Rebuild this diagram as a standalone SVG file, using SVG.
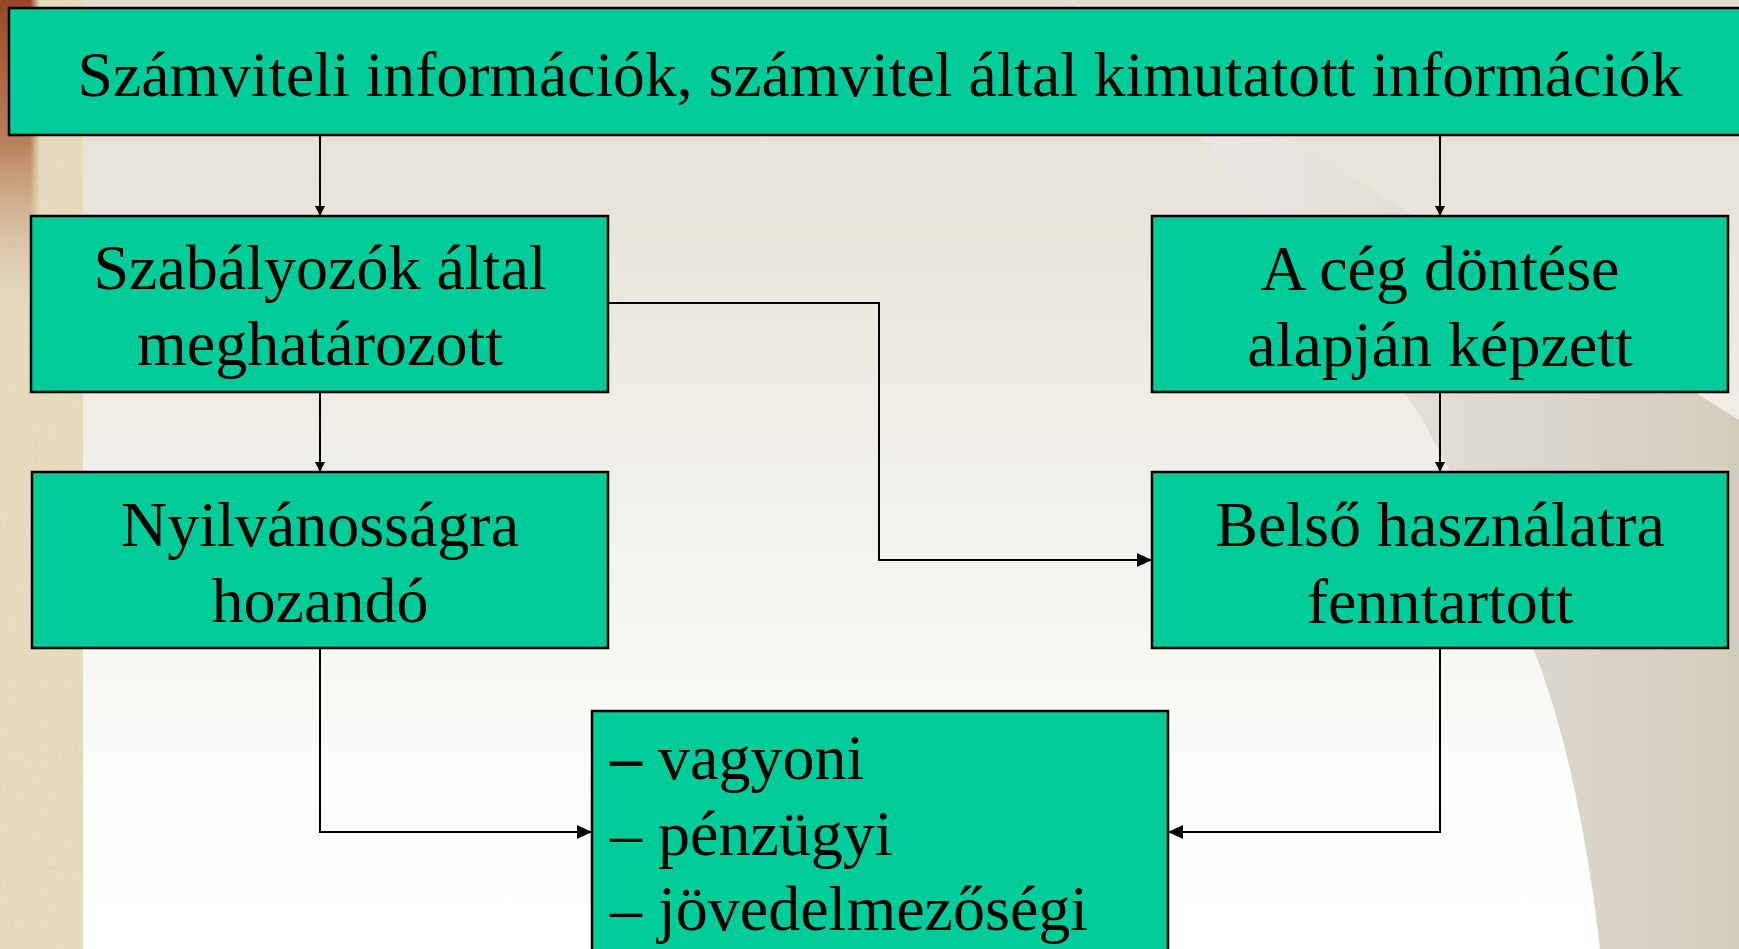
<svg xmlns="http://www.w3.org/2000/svg" width="1739" height="949" viewBox="0 0 1739 949">
  <defs>
    <linearGradient id="bgMain" x1="0" y1="0" x2="0" y2="949" gradientUnits="userSpaceOnUse">
      <stop offset="0" stop-color="#e1ded0"/>
      <stop offset="0.45" stop-color="#efede6"/>
      <stop offset="0.85" stop-color="#fdfdfc"/>
      <stop offset="1" stop-color="#ffffff"/>
    </linearGradient>
    <linearGradient id="swoosh" x1="1150" y1="0" x2="1739" y2="0" gradientUnits="userSpaceOnUse">
      <stop offset="0" stop-color="#ece8e4"/>
      <stop offset="0.45" stop-color="#e2ddd6"/>
      <stop offset="1" stop-color="#d2cdbc"/>
    </linearGradient>
    <linearGradient id="brown" x1="0" y1="0" x2="0" y2="320" gradientUnits="userSpaceOnUse">
      <stop offset="0" stop-color="#9a4526"/>
      <stop offset="0.45" stop-color="#b2704c" stop-opacity="0.85"/>
      <stop offset="1" stop-color="#d9c7a2" stop-opacity="0"/>
    </linearGradient>
    <linearGradient id="brownH" x1="0" y1="0" x2="40" y2="0" gradientUnits="userSpaceOnUse">
      <stop offset="0" stop-color="#ffffff" stop-opacity="1"/>
      <stop offset="0.75" stop-color="#ffffff" stop-opacity="1"/>
      <stop offset="1" stop-color="#ffffff" stop-opacity="0"/>
    </linearGradient>
    <mask id="brownMask">
      <rect x="0" y="0" width="40" height="320" fill="url(#brownH)"/>
    </mask>
    <filter id="paper" x="0" y="0" width="1" height="1">
      <feTurbulence type="fractalNoise" baseFrequency="0.45 0.15" numOctaves="3" seed="4"/>
      <feColorMatrix type="matrix" values="0 0 0 0 0.72  0 0 0 0 0.66  0 0 0 0 0.50  0.7 0 0 0 -0.22"/>
    </filter>
    <marker id="arrS" markerUnits="userSpaceOnUse" markerWidth="10" markerHeight="10" refX="10" refY="5" orient="auto">
      <path d="M0,0 L10,5 L0,10 Z" fill="#000"/>
    </marker>
    <marker id="arrL" markerUnits="userSpaceOnUse" markerWidth="15" markerHeight="14" refX="15" refY="7" orient="auto">
      <path d="M0,0 L15,7 L0,14 Z" fill="#000"/>
    </marker>
  </defs>
  <style>
    .box { fill: #00cc99; stroke: #000; stroke-width: 2.5; }
    .lbl { font-family: "Liberation Serif", "Times New Roman", serif; font-size: 64px; fill: #000; }
    .mid { text-anchor: middle; }
    .con { fill: none; stroke: #000; stroke-width: 2; }
  </style>

  <!-- background -->
  <g id="background">
    <rect x="0" y="0" width="1739" height="949" fill="url(#bgMain)"/>
    <path d="M1070,0 L1739,420 L1739,949 L1600,949 C1590,860 1570,740 1533,648 C1500,560 1460,490 1420,415 C1340,300 1250,180 1070,0 Z" fill="url(#swoosh)"/>
    <rect x="0" y="0" width="83" height="949" fill="#e6ddbf"/>
    <rect x="0" y="0" width="83" height="949" filter="url(#paper)"/>
    <rect x="0" y="0" width="40" height="320" fill="url(#brown)" mask="url(#brownMask)"/>
  </g>

  <!-- connectors -->
  <g id="connectors">
    <line class="con" x1="320" y1="135" x2="320" y2="216" marker-end="url(#arrS)"/>
    <line class="con" x1="1440" y1="135" x2="1440" y2="216" marker-end="url(#arrS)"/>
    <line class="con" x1="320" y1="392" x2="320" y2="472" marker-end="url(#arrS)"/>
    <line class="con" x1="1440" y1="392" x2="1440" y2="472" marker-end="url(#arrS)"/>
    <polyline class="con" points="608,303 879,303 879,560 1152,560" marker-end="url(#arrL)"/>
    <polyline class="con" points="320,648 320,832 592,832" marker-end="url(#arrL)"/>
    <polyline class="con" points="1440,648 1440,832 1168,832" marker-end="url(#arrL)"/>
  </g>

  <g id="node-top">
    <rect class="box" x="9" y="8" width="1745" height="127"/>
    <text class="lbl mid" x="880" y="96" textLength="1605" lengthAdjust="spacingAndGlyphs">Számviteli információk, számvitel által kimutatott információk</text>
  </g>

  <g id="node-szabalyozok">
    <rect class="box" x="31" y="216" width="577" height="176"/>
    <text class="lbl mid" x="320" y="289">Szabályozók által</text>
    <text class="lbl mid" x="320" y="365">meghatározott</text>
  </g>

  <g id="node-ceg">
    <rect class="box" x="1152" y="216" width="576" height="176"/>
    <text class="lbl mid" x="1440" y="290">A cég döntése</text>
    <text class="lbl mid" x="1440" y="366">alapján képzett</text>
  </g>

  <g id="node-nyilvanossag">
    <rect class="box" x="32" y="472" width="576" height="176"/>
    <text class="lbl mid" x="320" y="546">Nyilvánosságra</text>
    <text class="lbl mid" x="320" y="622">hozandó</text>
  </g>

  <g id="node-belso">
    <rect class="box" x="1152" y="472" width="576" height="176"/>
    <text class="lbl mid" x="1440" y="546">Belső használatra</text>
    <text class="lbl mid" x="1440" y="623">fenntartott</text>
  </g>

  <g id="node-list">
    <rect class="box" x="592" y="711" width="576" height="260"/>
    <text class="lbl" x="610" y="779"><tspan font-weight="bold">–</tspan> vagyoni</text>
    <text class="lbl" x="610" y="855">– pénzügyi</text>
    <text class="lbl" x="610" y="930">– jövedelmezőségi</text>
  </g>
</svg>
